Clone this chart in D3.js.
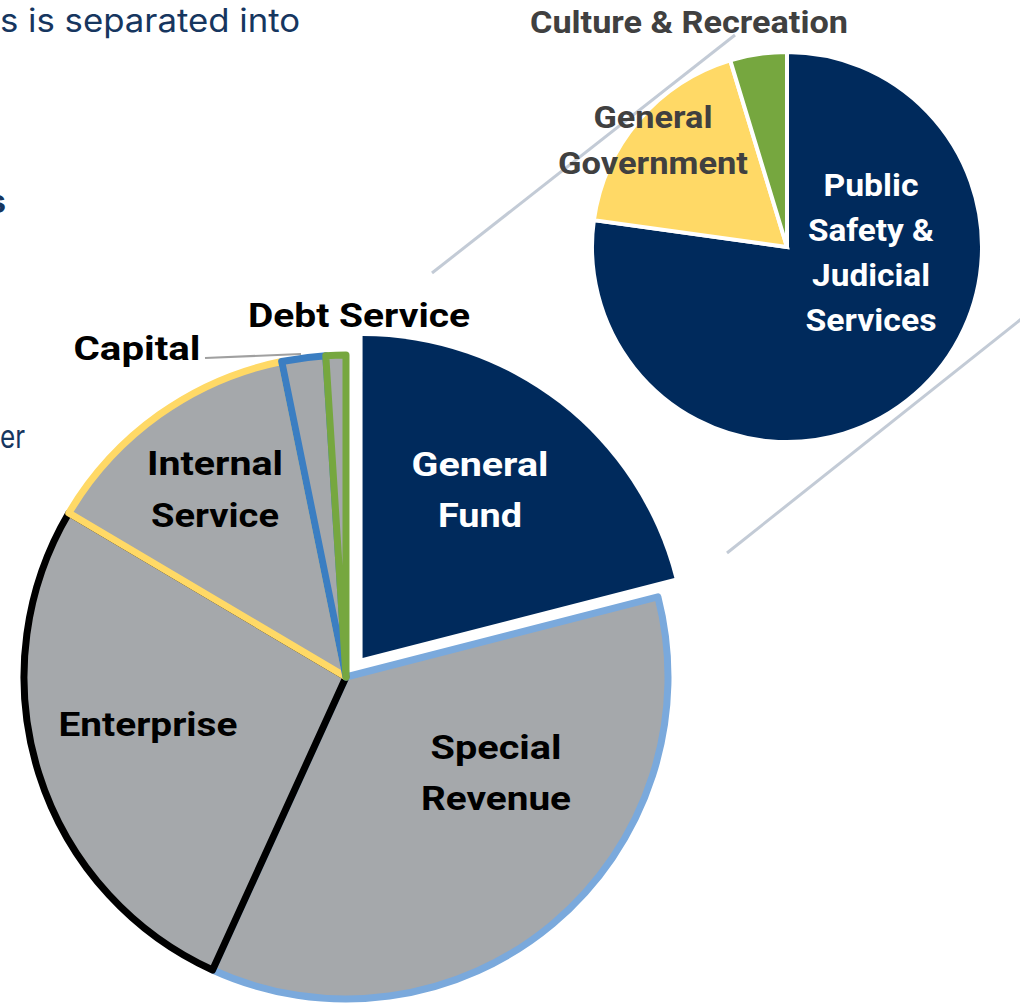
<!DOCTYPE html>
<html><head><meta charset="utf-8">
<script src="https://cdn.jsdelivr.net/npm/d3@7"></script>
<style>body{margin:0;background:#fff}svg{display:block}</style>
</head><body>
<script>
// Main pie data
const mainCategories = ["General Fund","Special Revenue","Enterprise","Internal Service","Capital","Debt Service"];
const mainValues = [21.0, 35.8, 26.7, 13.3, 2.2, 1.0];
// Secondary pie (breakdown of General Fund)
const subCategories = ["Public Safety & Judicial Services","General Government","Culture & Recreation"];
const subValues = [77.2, 18.1, 4.7];

const W = 1020, H = 1004;
const svg = d3.select("body").append("svg").attr("width", W).attr("height", H);

const mainFill = ["#002a5c","#a5a8ab","#a5a8ab","#a5a8ab","#a5a8ab","#a5a8ab"];
const mainStroke = ["none","#7aa9dc","#000000","#ffd966","#3b7ec2","#76a73f"];
const subFill = ["#002a5c","#ffd966","#76a73f"];

// connector lines (behind)
const conn = svg.append("g").attr("stroke","#c3cbd6").attr("stroke-width",3);
conn.append("line").attr("x1",432).attr("y1",273).attr("x2",735).attr("y2",35);
conn.append("line").attr("x1",727).attr("y1",553).attr("x2",1025).attr("y2",316);

// left text fragments (body text continuing from off-page)
const lt = svg.append("g").attr("fill","#16365f").attr("font-size",32)
  .attr("font-family","Inter, 'Open Sans', sans-serif");
lt.append("text").attr("x",0).attr("y",32).attr("textLength",300).attr("lengthAdjust","spacingAndGlyphs").text("s is separated into");
lt.append("text").attr("x",6).attr("y",213).attr("text-anchor","end").attr("font-weight",700).text("s");
lt.append("text").attr("x",0).attr("y",448).attr("textLength",25).attr("lengthAdjust","spacingAndGlyphs").text("er");

// main pie
const cx = 346, cy = 677, R = 322;
const pie = d3.pie().sort(null).value(d => d).startAngle(0).endAngle(2*Math.PI);
const mArcs = pie(mainValues);
const arc = d3.arc().innerRadius(0).outerRadius(R);
const gMain = svg.append("g").attr("transform",`translate(${cx},${cy})`);
mArcs.forEach((a,i) => {
  let tx = 0, ty = 0;
  if (i === 0) { const m = (a.startAngle+a.endAngle)/2; tx = 27*Math.sin(m); ty = -24*Math.cos(m); }
  gMain.append("path").attr("d", arc(a)).attr("transform",`translate(${tx},${ty})`)
    .attr("fill", mainFill[i]).attr("stroke", mainStroke[i])
    .attr("stroke-width", i===0?0:7).attr("stroke-linejoin","round");
});

// secondary pie
const sx = 787, sy = 247, r2 = 195;
const sArcs = pie(subValues);
const arc2 = d3.arc().innerRadius(0).outerRadius(r2);
const gSub = svg.append("g").attr("transform",`translate(${sx},${sy})`);
gSub.selectAll("path").data(sArcs).join("path").attr("d",arc2)
  .attr("fill",(d,i)=>subFill[i]).attr("stroke","#fff").attr("stroke-width",4);

// capital leader line
svg.append("line").attr("x1",205).attr("y1",358).attr("x2",301).attr("y2",354).attr("stroke","#a0a0a0").attr("stroke-width",2);

// labels: [text, width]
function label(lines, x, y0, dy, fill, size){
  const t = svg.append("text").attr("text-anchor","middle").attr("font-weight",700)
    .attr("font-family","Roboto, 'Noto Sans', sans-serif")
    .attr("font-size",size).attr("fill",fill);
  lines.forEach((s,k)=>t.append("tspan").attr("x",x).attr("y",y0+k*dy)
    .attr("textLength",s[1]).attr("lengthAdjust","spacingAndGlyphs").text(s[0]));
}
label([["Culture & Recreation",318]], 689, 33, 0, "#404040", 31);
label([["General",119],["Government",190]], 653, 128, 46, "#404040", 31);
label([["Public",95],["Safety &",126],["Judicial",118],["Services",131]], 871, 196, 45, "#ffffff", 31);
label([["General",137],["Fund",84]], 480, 476, 51, "#ffffff", 34);
label([["Special",131],["Revenue",150]], 496, 759, 51, "#000000", 34);
label([["Enterprise",179]], 148, 736, 0, "#000000", 34);
label([["Internal",136],["Service",128]], 215, 475, 52, "#000000", 34);
label([["Capital",127]], 137, 360, 0, "#000000", 34);
label([["Debt Service",222]], 359, 327, 0, "#000000", 34);
</script>
</body></html>
